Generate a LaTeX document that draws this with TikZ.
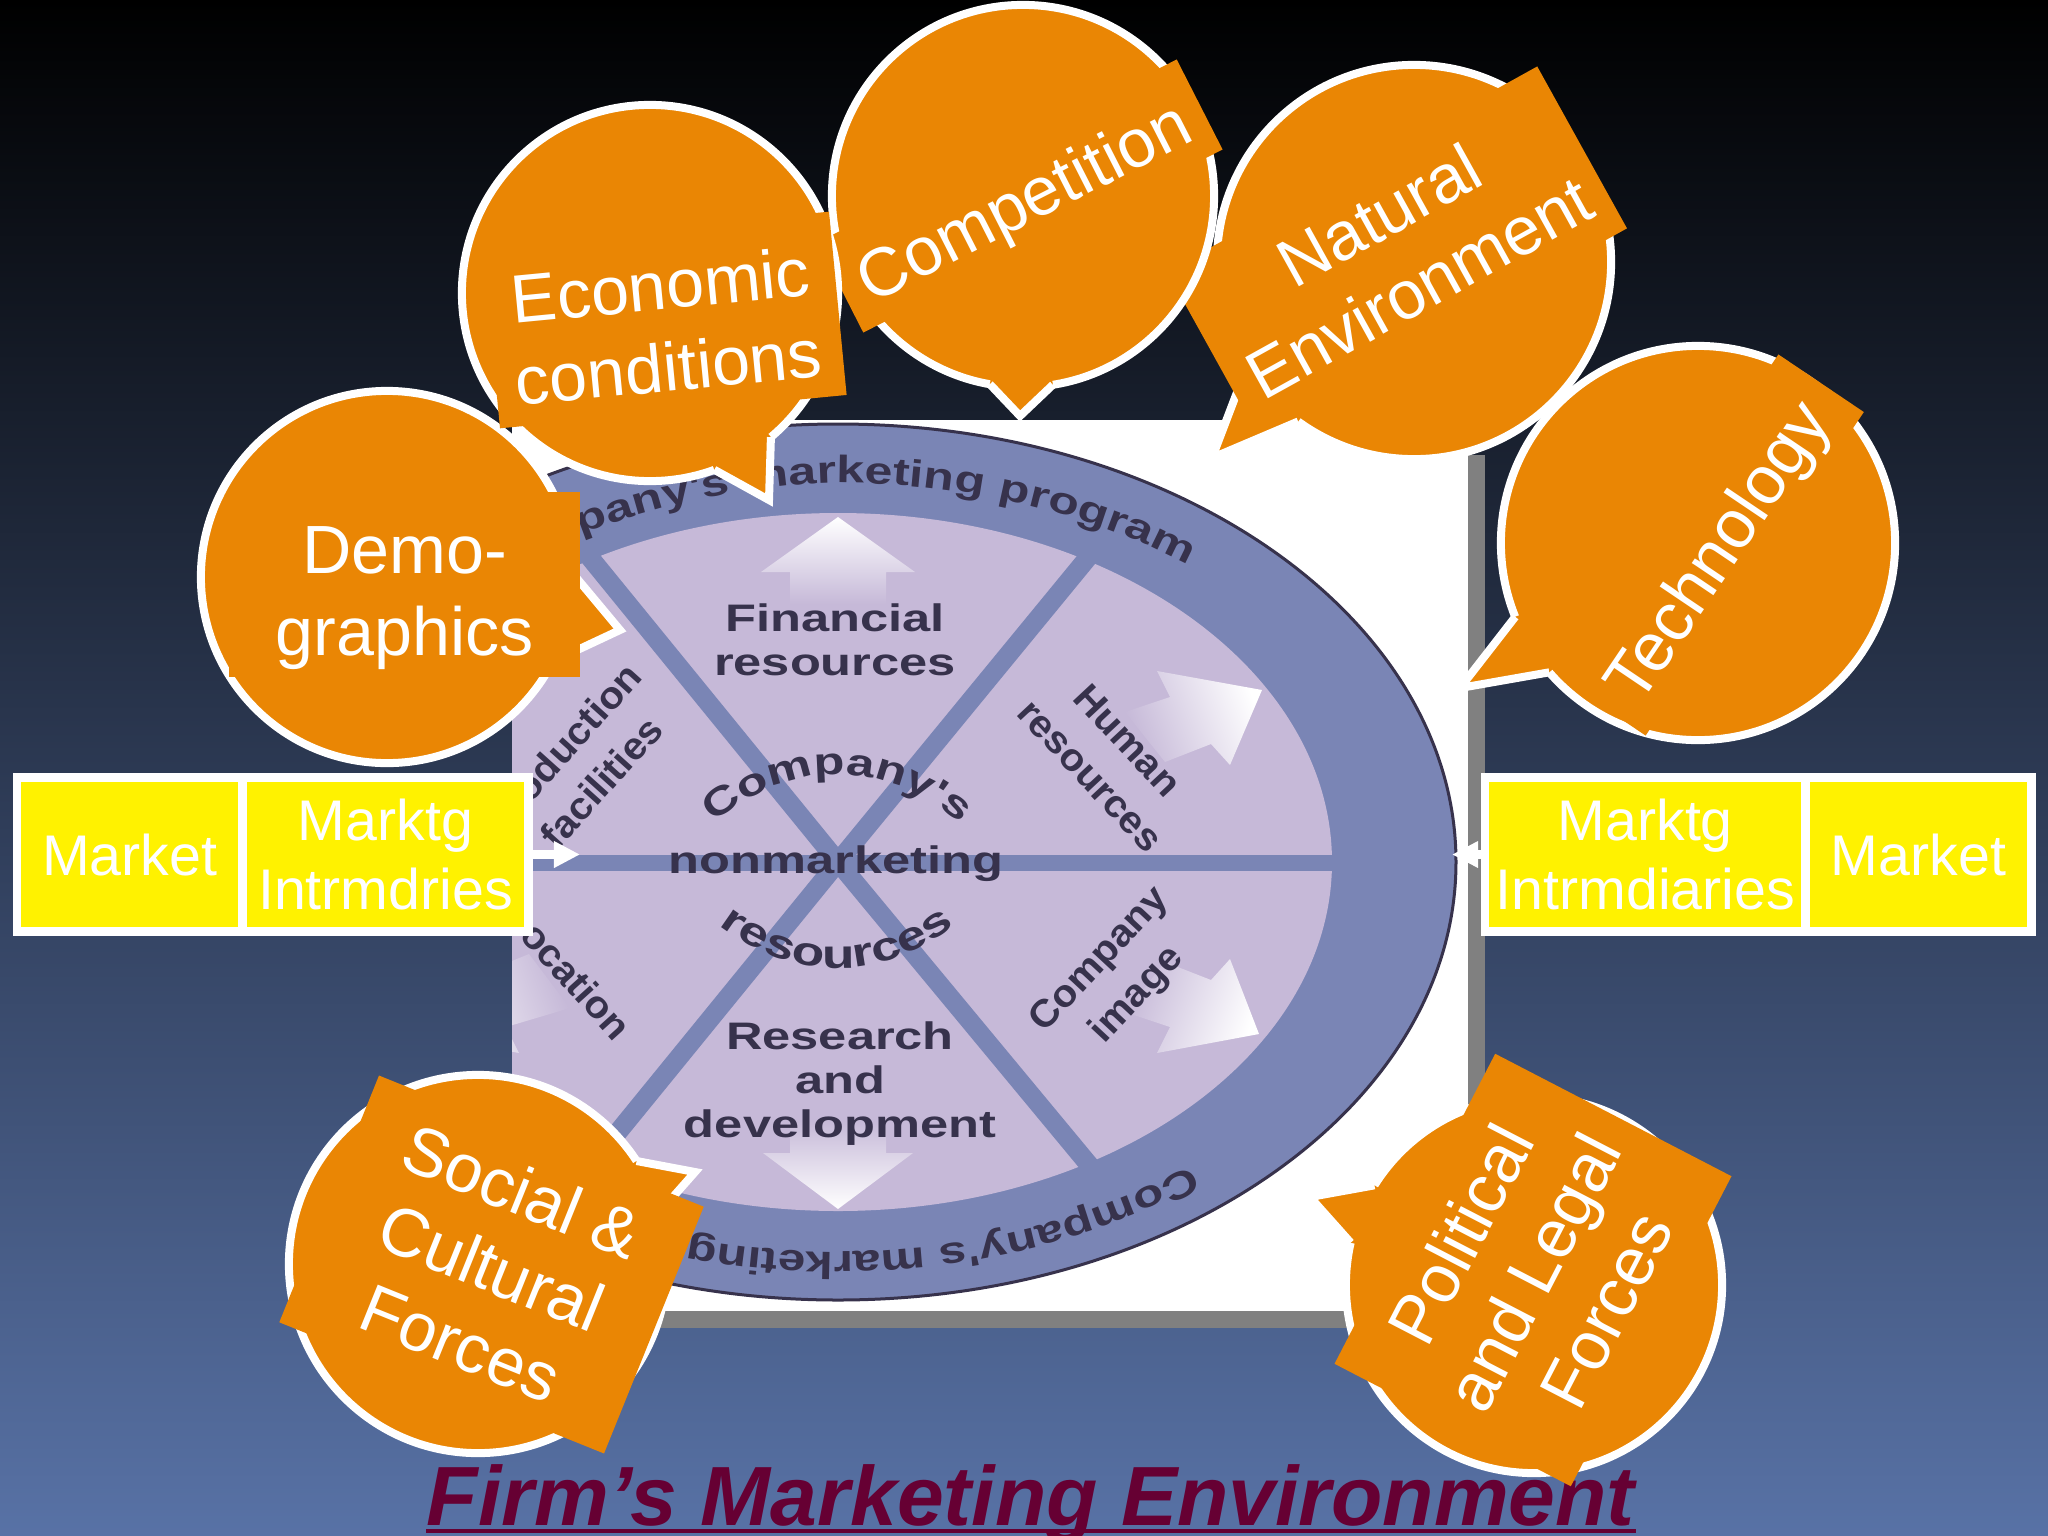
\documentclass[tikz,border=0pt]{standalone}
\usepackage{fontspec}
\setmainfont{Liberation Sans}
\newfontfamily\hubfont[FakeStretch=1.32]{Liberation Sans}
\newfontfamily\wedgefont[FakeStretch=1.05]{Liberation Sans}
\usetikzlibrary{arrows.meta,decorations.text}
\definecolor{bubbleorange}{HTML}{EA8604}
\definecolor{ringblue}{HTML}{7A85B5}
\definecolor{pielilac}{HTML}{C6B9D8}
\definecolor{pieink}{HTML}{37324C}
\definecolor{titleplum}{HTML}{660033}
\newcommand{\piesize}{\fontsize{10.9}{12.5}\selectfont}
\tikzset{
	bubble/.style={circle,draw=white,fill=bubbleorange,line width=0.08cm,inner sep=0pt,outer sep=0pt},
	bubbletail/.style={draw=white,line width=0.08cm},
	bubblebox/.style={fill=bubbleorange,inner sep=0pt},
	bubbletext/.style={text=white,inner sep=0pt,align=center,font=\fontsize{19.4}{23.3}\selectfont},
	mktbox/.style={draw=white,fill=yellow,text=white,line width=0.085cm,inner sep=0pt,outer sep=0pt,minimum height=1.54cm,align=center,font=\fontsize{16.3}{19.4}\selectfont},
	mktarrow/.style={draw=white,line width=0.09cm,-{Triangle[length=0.26cm,width=0.25cm]}},
	hublabel/.style={text=pieink,inner sep=0pt,align=center,font=\hubfont\bfseries\piesize},
	wedgelabel/.style={text=pieink,inner sep=0pt,align=center,font=\wedgefont\bfseries\fontsize{10.9}{14.6}\selectfont},
	spoke/.style={draw=ringblue,line width=0.19cm},
	piearrow/.style={top color=white,bottom color=pielilac}
}
\begin{document}
\begin{tikzpicture}[x=0.01cm,y=-0.01cm]
	\useasboundingbox (0,0) rectangle (2048,1536);
	\shade [top color=black,bottom color={rgb,255:red,88;green,114;blue,166}] (0,0) rectangle (2048,1536);
	% panel
	\fill [gray] (530,455) rectangle (1485,1328);
	\fill [white] (512,420) rectangle (1468,1311);
	\begin{scope}
		\clip (512,420) rectangle (1468,1311);
		\draw [fill=ringblue,draw=pieink,line width=0.03cm] (838,862) ellipse [x radius=618,y radius=438];
		\fill [pielilac] (838,862) ellipse [x radius=494,y radius=349];
		%
		\coordinate (hub) at (838,862);
		\draw [spoke] (hub) to (1090,555);
		\draw [spoke] (hub) to (583,549);
		\draw [spoke] (hub) to (1090,1166);
		\draw [spoke] (hub) to (583,1175);
		\draw [spoke,line width=0.16cm] (512,863) to (1335,863);
		%
		\shade [piearrow] (838,517) -- (915,572) -- (886,572) -- (886,604) -- (790,604) -- (790,572) -- (761,572) -- cycle;
		\shade [piearrow,shading angle=180] (838,1209) -- (913,1153) -- (886,1153) -- (886,1121) -- (790,1121) -- (790,1153) -- (763,1153) -- cycle;
		\shade [piearrow,shading angle=-70] (1262,690) -- (1230,765) -- (1211,744) -- (1165,762) -- (1125,712) -- (1170,697) -- (1157,671) -- cycle;
		\shade [piearrow,shading angle=-110] (1259,1034) -- (1230,959) -- (1211,980) -- (1165,962) -- (1125,1012) -- (1170,1027) -- (1157,1053) -- cycle;
		\shade [piearrow,shading angle=110] (417,1034) -- (446,959) -- (465,980) -- (529,954) -- (570,1008) -- (506,1027) -- (519,1053) -- cycle;
		%
		\node [hublabel] (financial) at (835,640) {Financial\\resources};
		\node [hublabel] (research) at (840,1084) {Research\\and\\development};
		\node [hublabel] (nonmkt) at (836,864) {nonmarketing};
		\node [wedgelabel,rotate=-47] (human) at (1109,758) {Human\\resources};
		\node [wedgelabel,rotate=47] (image) at (1119,978) {Company\\image};
		\node [wedgelabel,rotate=48] (production) at (582,765) {Production\\facilities};
		\node [wedgelabel,rotate=-48] (location) at (568,971) {Location};
		%
		\path [decorate,decoration={text along path,text align=center,text={|\hubfont\bfseries\piesize\color{pieink}|Company's}}] (712,825) .. controls (790,758) and (885,758) .. (962,825);
		\path [decorate,decoration={text along path,text align=center,text={|\hubfont\bfseries\fontsize{11.5}{13}\selectfont\color{pieink}|resources}}] (712,920) .. controls (790,984) and (885,984) .. (962,920);
		\path [decorate,decoration={text along path,text={|\hubfont\bfseries\fontsize{10.8}{12.5}\selectfont\color{pieink}|Company's marketing program}}] (480,583) .. controls (591,520) and (712,486) .. (838,483) .. controls (1003.8,483) and (1161,533) .. (1262,613);
		\path [decorate,decoration={text along path,text={|\hubfont\bfseries\fontsize{10.7}{12.5}\selectfont\color{pieink}|Company's marketing}}] (1190,1165) .. controls (1090,1222) and (962,1252) .. (838,1252) .. controls (706,1252) and (578,1220) .. (477,1163);
	\end{scope}
	% title under the bubbles
	\node [inner sep=0pt,anchor=base,text=titleplum,font=\fontsize{23.9}{28}\selectfont\bfseries\itshape] (title) at (1031,1525) {Firm’s Marketing Environment};
	\draw [titleplum,line width=0.04cm] ([yshift=-0.06cm]title.base west) to ([yshift=-0.06cm]title.base east);
	% market boxes
	\node [mktbox,minimum width=2.255cm] (marketL) at (129.75,854.5) {Market};
	\node [mktbox,minimum width=2.86cm] (intermL) at (385.5,854.5) {Marktg\\Intrmdries};
	\node [mktbox,minimum width=3.205cm] (intermR) at (1645.25,854.5) {Marktg\\Intrmdiaries};
	\node [mktbox,minimum width=2.26cm] (marketR) at (1918.5,854.5) {Market};
	\coordinate (tipL) at (580,854.5);
	\coordinate (tipR) at (1452,854.5);
	\draw [mktarrow] (intermL.east) to (tipL);
	\draw [mktarrow] (intermR.west) to (tipR);
	% bubbles, back to front
	\node [bubble,minimum size=3.94cm] (natural) at (1414,262) {};
	\coordinate (naturaltip) at (1212,458);
	\fill [bubbleorange] (natural.center) -- (natural.212) -- (naturaltip) -- (natural.234) -- cycle;
	\draw [bubbletail] (natural.212) -- (naturaltip) -- (natural.234);
	\node [bubblebox,minimum width=4.23cm,minimum height=1.85cm,rotate=29] (naturalbox) at (1397,250) {};
	\node [bubbletext,rotate=29] (naturaltext) at (1399,251) {Natural\\Environment};
	%
	\node [bubble,minimum size=3.82cm] (competition) at (1023,196) {};
	\coordinate (competitiontip) at (1020,416);
	\fill [bubbleorange] (competition.center) -- (competition.-100) -- (competitiontip) -- (competition.-81) -- cycle;
	\draw [bubbletail] (competition.-100) -- (competitiontip) -- (competition.-81);
	\node [bubblebox,minimum width=4.03cm,minimum height=1.01cm,rotate=27] (competitionbox) at (1020,196) {};
	\node [bubbletext,rotate=27] (competitiontext) at (1026,206) {Competition};
	%
	\node [bubble,minimum size=3.72cm] (demo) at (387,577) {};
	\coordinate (demotip) at (620,630);
	\fill [bubbleorange] (demo.center) -- (demo.1) -- (demotip) -- (demo.-27) -- cycle;
	\draw [bubbletail] (demo.1) -- (demotip) -- (demo.-27);
	\node [bubblebox,minimum width=3.51cm,minimum height=1.85cm] (demobox) at (404.5,584.5) {};
	\node [bubbletext] (demotext) at (404.5,598) {Demo-\\graphics};
	%
	\node [bubble,minimum size=3.76cm] (economic) at (650,293) {};
	\coordinate (economictip) at (769,500);
	\fill [bubbleorange] (economic.center) -- (economic.-50) -- (economictip) -- (economic.-70) -- cycle;
	\draw [bubbletail] (economic.-50) -- (economictip) -- (economic.-70);
	\node [bubblebox,minimum width=3.48cm,minimum height=1.84cm,rotate=5.5] (economicbox) at (664.5,320) {};
	\node [bubbletext,rotate=5.5] (economictext) at (664.5,326) {Economic\\conditions};
	%
	\node [bubble,minimum size=3.94cm] (technology) at (1698,543) {};
	\coordinate (technologytip) at (1460,688);
	\fill [bubbleorange] (technology.center) -- (technology.202) -- (technologytip) -- (technology.221) -- cycle;
	\draw [bubbletail] (technology.202) -- (technologytip) -- (technology.221);
	\node [bubblebox,minimum width=3.9cm,minimum height=1.03cm,rotate=56] (technologybox) at (1712,545) {};
	\node [bubbletext,rotate=56] (technologytext) at (1721,554) {Technology};
	%
	\node [bubble,minimum size=3.78cm] (social) at (478,1264) {};
	\coordinate (socialtip) at (695,1172);
	\fill [bubbleorange] (social.center) -- (social.33) -- (socialtip) -- (social.16) -- cycle;
	\draw [bubbletail] (social.33) -- (socialtip) -- (social.16);
	\node [bubblebox,minimum width=3.5cm,minimum height=2.66cm,rotate=-22] (socialbox) at (491.5,1264.5) {};
	\node [bubbletext,rotate=-22] (socialtext) at (491.5,1267) {Social \&\\Cultural\\Forces};
	%
	\node [bubble,minimum size=3.76cm] (political) at (1534,1285) {};
	\coordinate (politicaltip) at (1310,1197);
	\fill [bubbleorange] (political.center) -- (political.148) -- (politicaltip) -- (political.167) -- cycle;
	\draw [bubbletail] (political.148) -- (politicaltip) -- (political.167);
	\node [bubblebox,minimum width=3.49cm,minimum height=2.66cm,rotate=62.6] (politicalbox) at (1533,1270) {};
	\node [bubbletext,rotate=62.6] (politicaltext) at (1533,1272) {Political\\and Legal\\Forces};
\end{tikzpicture}
\end{document}
